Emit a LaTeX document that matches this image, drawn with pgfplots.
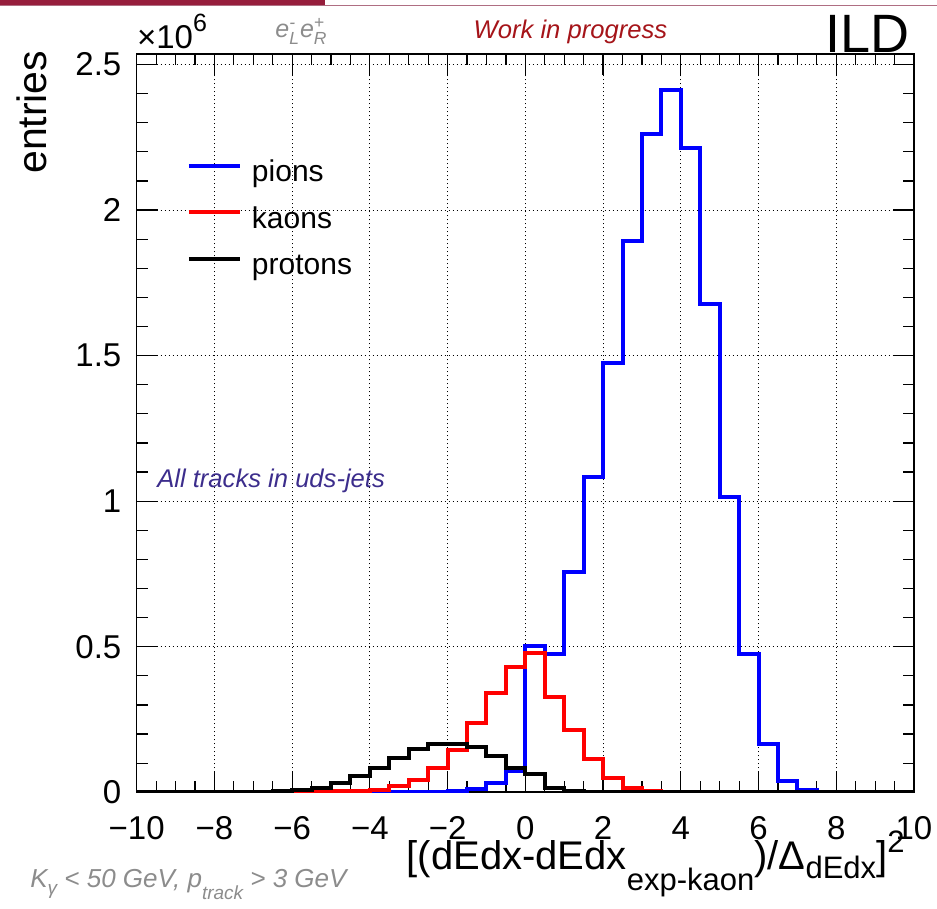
\documentclass[border=0pt]{standalone}
\usepackage{fontspec}
\setmainfont{Liberation Sans}
\usepackage{amsmath}
\usepackage{pgfplots}
\usepackage{pgfplotstable}
\pgfplotsset{compat=1.18}
\definecolor{wip}{RGB}{165,20,25}
\definecolor{tracks}{RGB}{60,45,140}
\definecolor{grtext}{RGB}{140,140,140}
\definecolor{barred}{RGB}{150,30,60}
\definecolor{barline}{RGB}{175,110,130}

% bin left edges (x) and entries in units of 10^6 (y)
\pgfplotstableread[row sep=\\]{
x y\\
-10 0\\ -9.5 0\\ -9 0\\ -8.5 0\\ -8 0\\ -7.5 0\\ -7 0\\ -6.5 0\\ -6 0\\ -5.5 0\\
-5 0\\ -4.5 0.001\\ -4 0.001\\ -3.5 0.001\\ -3 0.001\\ -2.5 0.002\\ -2 0.003\\ -1.5 0.010\\ -1 0.031\\ -0.5 0.074\\
0 0.502\\ 0.5 0.474\\ 1 0.755\\ 1.5 1.082\\ 2 1.473\\ 2.5 1.893\\ 3 2.261\\ 3.5 2.412\\ 4 2.214\\ 4.5 1.678\\
5 1.015\\ 5.5 0.474\\ 6 0.165\\ 6.5 0.039\\ 7 0.008\\ 7.5 0\\ 8 0\\ 8.5 0\\ 9 0\\ 9.5 0\\ 10 0\\
}\pions
\pgfplotstableread[row sep=\\]{
x y\\
-10 0\\ -9.5 0\\ -9 0\\ -8.5 0\\ -8 0\\ -7.5 0\\ -7 0\\ -6.5 0.001\\ -6 0.001\\ -5.5 0.002\\
-5 0.003\\ -4.5 0.004\\ -4 0.008\\ -3.5 0.023\\ -3 0.042\\ -2.5 0.082\\ -2 0.145\\ -1.5 0.237\\ -1 0.342\\ -0.5 0.429\\
0 0.477\\ 0.5 0.326\\ 1 0.214\\ 1.5 0.113\\ 2 0.050\\ 2.5 0.016\\ 3 0.004\\ 3.5 0.001\\ 4 0\\ 4.5 0\\
5 0\\ 5.5 0\\ 6 0\\ 6.5 0\\ 7 0\\ 7.5 0\\ 8 0\\ 8.5 0\\ 9 0\\ 9.5 0\\ 10 0\\
}\kaons
\pgfplotstableread[row sep=\\]{
x y\\
-10 0\\ -9.5 0\\ -9 0\\ -8.5 0\\ -8 0\\ -7.5 0\\ -7 0.001\\ -6.5 0.004\\ -6 0.008\\ -5.5 0.016\\
-5 0.033\\ -4.5 0.056\\ -4 0.082\\ -3.5 0.117\\ -3 0.148\\ -2.5 0.166\\ -2 0.167\\ -1.5 0.155\\ -1 0.125\\ -0.5 0.082\\
0 0.062\\ 0.5 0.016\\ 1 0.005\\ 1.5 0.002\\ 2 0.001\\ 2.5 0\\ 3 0\\ 3.5 0\\ 4 0\\ 4.5 0\\
5 0\\ 5.5 0\\ 6 0\\ 6.5 0\\ 7 0\\ 7.5 0\\ 8 0\\ 8.5 0\\ 9 0\\ 9.5 0\\ 10 0\\
}\protons

\newcommand{\rsub}[2]{\raisebox{#1}{\fontsize{9.5}{9.5}\selectfont #2}}

\begin{document}
\begin{tikzpicture}
\path[use as bounding box] (0pt,0pt) rectangle (468.5pt,454.5pt);
\fill[barred] (0pt,451.5pt) rectangle (162.5pt,454.5pt);
\draw[barline, line width=0.6pt] (0pt,451.8pt) -- (468.5pt,451.8pt);
\begin{axis}[
  at={(68.35pt,58.35pt)}, anchor=south west,
  scale only axis, width=388.65pt, height=369pt,
  xmin=-10, xmax=10, ymin=0, ymax=2.535,
  xtick={-10,-8,-6,-4,-2,0,2,4,6,8,10},
  xticklabels={−10,−8,−6,−4,−2,0,2,4,6,8,10},
  minor x tick num=3,
  ytick={0,0.5,1,1.5,2,2.5},
  yticklabels={0,0.5,1,1.5,2,2.5},
  minor y tick num=4,
  xtick pos=both, ytick pos=both,
  xticklabel pos=lower, yticklabel pos=left,
  tick align=inside,
  major tick length=10.5pt, minor tick length=5.5pt,
  every tick/.style={black, line width=0.6pt},
  grid=major,
  major grid style={black, line width=0.5pt, dash pattern=on 0.5pt off 1.5pt},
  axis line style={black, line width=0.8pt},
  ticklabel style={font=\fontsize{16.5}{16.5}\selectfont, inner sep=0pt},
  xticklabel style={anchor=base, yshift=-23.5pt},
  yticklabel style={anchor=east, xshift=-7.5pt},
  xlabel={[(dEdx-dEdx\raisebox{-10.5pt}{\fontsize{15.5}{15.5}\selectfont exp-kaon})/Δ\raisebox{-4.5pt}{\fontsize{15.5}{15.5}\selectfont dEdx}]\raisebox{8.5pt}{\fontsize{15.5}{15.5}\selectfont 2}},
  xlabel style={at={(rel axis cs:1,0)}, anchor=base east, yshift=-38.5pt, xshift=-4.5pt, inner sep=0pt, font=\fontsize{20}{20}\selectfont},
  legend style={at={(rel axis cs:0.0647,0.857)}, anchor=north west, draw=none, fill=none, inner sep=0pt, outer sep=0pt,
    row sep=9.25pt, column sep=5pt, font=\fontsize{15}{15}\selectfont,
    nodes={inner sep=0pt, text height=11pt, text depth=3pt}},
  legend cell align=left,
  legend image code/.code={\draw[#1, line width=2pt] (0pt,4pt) -- (25.5pt,4pt);},
  clip mode=individual,
]
\addplot[const plot, color=blue, line width=2pt, line join=miter] table[x=x,y=y] {\pions};
\addlegendentry{pions}
\addplot[const plot, color=red, line width=2pt, line join=miter] table[x=x,y=y] {\kaons};
\addlegendentry{kaons}
\addplot[const plot, color=black, line width=2pt, line join=miter] table[x=x,y=y] {\protons};
\addlegendentry{protons}

\node[anchor=base west, inner sep=0pt, font=\fontsize{16.5}{16.5}\selectfont] at ([yshift=3pt]rel axis cs:0,1) {×10\raisebox{0.5em}{\fontsize{12.5}{12.5}\selectfont 6}};
\node[anchor=base west, inner sep=0pt, text=grtext, font=\fontsize{12.5}{12.5}\selectfont\itshape] at ([yshift=8.5pt]rel axis cs:0.178,1) {e$^{\text{-}}_{\text{L}}$e$^{\text{+}}_{\text{R}}$};
\node[anchor=base, inner sep=0pt, text=wip, font=\fontsize{12.8}{12.8}\selectfont\itshape] at ([yshift=8pt]rel axis cs:0.558,1) {Work in progress};
\node[anchor=base east, inner sep=0pt, font=\fontsize{27}{27}\selectfont] at ([xshift=-2pt,yshift=1pt]rel axis cs:1,1) {ILD};
\node[anchor=base west, inner sep=0pt, text=tracks, font=\fontsize{12.8}{12.8}\selectfont\itshape] at (axis cs:-9.48,1.048) {All tracks in uds-jets};
\node[anchor=base east, rotate=90, inner sep=0pt, font=\fontsize{20.5}{20.5}\selectfont] at ([xshift=-44.85pt,yshift=2pt]rel axis cs:0,1) {entries};
\end{axis}
\node[anchor=base west, inner sep=0pt, text=grtext, font=\fontsize{13}{13}\selectfont\itshape] at (15pt,10.5pt) {K\rsub{-3.5pt}{γ} < 50 GeV, p\rsub{-6pt}{track} > 3 GeV};
\end{tikzpicture}
\end{document}
